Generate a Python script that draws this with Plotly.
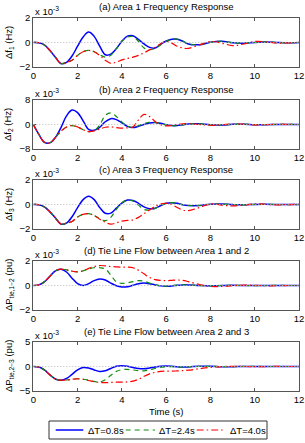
import plotly.graph_objects as go
from plotly.subplots import make_subplots

# ---------------- data (values in units of 1e-3) ----------------
t = [0, 0.25, 0.5, 0.75, 1, 1.25, 1.5, 1.75, 2, 2.25, 2.5, 2.75, 3, 3.25, 3.5, 3.75,
     4, 4.25, 4.5, 4.75, 5, 5.25, 5.5, 5.75, 6, 6.25, 6.5, 6.75, 7,
     7.5, 8, 8.5, 9, 9.5, 10, 10.5, 11, 11.5, 12]

series_names = ["ΔT=0.8s", "ΔT=2.4s", "ΔT=4.0s"]

# (a) Area 1 frequency
a_08 = [0, -0.02, -0.2, -0.65, -1.2, -1.72, -1.62, -1.1, -0.3, 0.45, 0.85, 0.5, -0.3, -1.0, -0.95, -0.5,
        0.1, 0.52, 0.55, 0.25, -0.12, -0.4, -0.45, -0.15, 0.12, 0.27, 0.27, 0.1, -0.12,
        -0.18, 0.02, 0.1, -0.02, -0.06, 0.0, 0.05, 0.0, -0.03, 0.0]
a_24 = [0, -0.02, -0.2, -0.65, -1.2, -1.72, -1.62, -1.45, -1.05, -0.75, -0.65, -0.75, -1.0, -1.2, -1.05, -0.5,
        0.1, 0.45, 0.48, 0.1, -0.45, -0.58, -0.48, -0.2, 0.1, 0.27, 0.27, 0.12, -0.1,
        -0.18, 0.02, 0.1, -0.02, -0.06, 0.0, 0.05, 0.0, -0.03, 0.0]
a_40 = [0, -0.02, -0.2, -0.65, -1.2, -1.72, -1.62, -1.45, -1.05, -0.75, -0.65, -0.75, -1.05, -1.45, -1.7, -1.6,
        -1.42, -1.3, -1.2, -1.05, -0.85, -0.6, -0.4, -0.1, 0.1, -0.05, -0.3, -0.45, -0.48,
        -0.2, 0.08, -0.05, -0.25, -0.12, 0.08, 0.05, -0.04, -0.03, 0.02]

# (b) Area 2 frequency
b_08 = [0, -3.2, -5.8, -6.0, -4.2, -1.0, 2.8, 4.7, 3.9, 1.2, -1.6, -1.9, -0.9, 0.9, 1.9, 1.6,
        0.5, -0.6, -1.0, -0.6, 0.0, 0.5, 0.65, 0.4, -0.05, -0.35, -0.35, -0.1, 0.15,
        0.22, -0.1, -0.15, 0.05, 0.1, -0.05, -0.05, 0.02, 0.02, 0.0]
b_24 = [0, -3.2, -5.8, -6.0, -4.2, -2.2, -0.8, -0.35, -0.8, -1.7, -2.3, -2.0, -0.2, 3.0, 3.8, 2.6,
        0.8, -0.5, -0.9, -0.4, 0.3, 0.7, 0.7, 0.35, -0.1, -0.4, -0.35, -0.1, 0.15,
        0.22, -0.1, -0.15, 0.05, 0.1, -0.05, -0.05, 0.02, 0.02, 0.0]
b_40 = [0, -3.2, -5.8, -6.0, -4.2, -2.2, -0.8, -0.35, -0.8, -1.7, -2.3, -2.1, -1.5, -0.9, -0.8, -1.0,
        -1.2, -1.1, -0.8, 1.5, 3.3, 2.6, 1.0, -0.1, -0.45, -0.3, 0.0, 0.25, 0.3,
        0.0, -0.25, -0.1, 0.15, 0.1, -0.1, -0.05, 0.05, 0.02, 0.0]

# (c) Area 3 frequency
c_08 = [0, -0.02, -0.2, -0.6, -1.1, -1.6, -1.52, -1.0, -0.25, 0.4, 0.68, 0.4, -0.25, -0.72, -0.7, -0.3,
        0.12, 0.36, 0.33, 0.1, -0.2, -0.35, -0.3, -0.1, 0.1, 0.15, 0.1, -0.02, -0.08,
        -0.08, 0.02, 0.04, -0.01, -0.03, 0.01, 0.02, 0.0, -0.01, 0.0]
c_24 = [0, -0.02, -0.2, -0.6, -1.1, -1.6, -1.52, -1.38, -1.02, -0.8, -0.75, -0.9, -1.15, -1.32, -1.05, -0.4,
        0.15, 0.35, 0.3, -0.05, -0.4, -0.45, -0.32, -0.08, 0.1, 0.15, 0.1, -0.02, -0.08,
        -0.08, 0.02, 0.04, -0.01, -0.03, 0.01, 0.02, 0.0, -0.01, 0.0]
c_40 = [0, -0.02, -0.2, -0.6, -1.1, -1.6, -1.52, -1.38, -1.02, -0.8, -0.75, -0.9, -1.2, -1.45, -1.6, -1.5,
        -1.35, -1.3, -1.25, -1.05, -0.75, -0.45, -0.15, 0.05, 0.1, 0.0, -0.25, -0.45, -0.5,
        -0.25, 0.05, -0.05, -0.12, -0.05, 0.05, 0.02, -0.03, -0.01, 0.01]

# (d) Tie line flow 1-2
d_08 = [0, 0.05, 0.3, 0.75, 1.2, 1.33, 1.1, 0.6, 0.15, 0.0, 0.15, 0.4, 0.53, 0.45, 0.2, -0.02,
        -0.12, -0.1, 0.02, 0.15, 0.2, 0.15, 0.05, -0.03, -0.06, -0.04, 0.02, 0.05, 0.05,
        0.0, -0.03, 0.0, 0.02, 0.0, -0.01, 0.0, 0.01, 0.0, 0.0]
d_24 = [0, 0.05, 0.3, 0.75, 1.2, 1.33, 1.28, 1.17, 1.12, 1.2, 1.35, 1.45, 1.45, 1.35, 0.85, 0.3,
        0.18, 0.22, 0.32, 0.4, 0.35, 0.2, 0.05, -0.03, -0.05, -0.02, 0.03, 0.06, 0.05,
        0.0, -0.03, 0.0, 0.02, 0.0, -0.01, 0.0, 0.01, 0.0, 0.0]
d_40 = [0, 0.05, 0.3, 0.75, 1.2, 1.33, 1.28, 1.17, 1.12, 1.2, 1.4, 1.55, 1.63, 1.6, 1.55, 1.52,
        1.5, 1.5, 1.45, 1.25, 0.95, 0.65, 0.48, 0.42, 0.4, 0.42, 0.45, 0.42, 0.32,
        0.08, -0.08, -0.08, -0.02, 0.03, 0.02, -0.02, -0.02, 0.0, 0.0]

# (e) Tie line flow 2-3
e_08 = [0, -0.1, -0.7, -1.7, -2.55, -2.8, -2.45, -1.6, -0.7, -0.2, -0.3, -0.7, -1.0, -0.85, -0.4, 0.05,
        0.15, 0.05, -0.2, -0.4, -0.45, -0.3, -0.1, 0.05, 0.1, 0.05, -0.05, -0.1, -0.08,
        0.05, 0.05, -0.03, -0.03, 0.02, 0.02, -0.01, -0.01, 0.0, 0.0]
e_24 = [0, -0.1, -0.7, -1.7, -2.55, -2.8, -2.75, -2.6, -2.5, -2.6, -2.8, -3.05, -3.15, -2.7, -1.8, -1.0,
        -0.65, -0.6, -0.7, -0.85, -0.9, -0.7, -0.4, -0.15, -0.05, -0.05, -0.1, -0.12, -0.08,
        0.03, 0.03, -0.02, -0.02, 0.01, 0.01, 0.0, 0.0, 0.0, 0.0]
e_40 = [0, -0.1, -0.7, -1.7, -2.55, -2.8, -2.75, -2.6, -2.5, -2.6, -2.85, -3.1, -3.25, -3.3, -3.25, -3.2,
        -3.2, -3.15, -3.0, -2.6, -2.0, -1.5, -1.2, -1.0, -0.95, -0.95, -0.9, -0.85, -0.75,
        -0.45, -0.18, -0.02, 0.03, 0.0, -0.02, -0.01, 0.01, 0.0, 0.0]

panels = [
    ("(a) Area 1 Frequency Response", "Δf<sub>1</sub> (Hz)", 2, [a_08, a_24, a_40]),
    ("(b) Area 2 Frequency Response", "Δf<sub>2</sub> (Hz)", 8, [b_08, b_24, b_40]),
    ("(c) Area 3 Frequency Response", "Δf<sub>3</sub> (Hz)", 2, [c_08, c_24, c_40]),
    ("(d) Tie Line Flow between Area 1 and 2", "ΔP<sub>tie,1−2</sub> (pu)", 2, [d_08, d_24, d_40]),
    ("(e) Tie Line Flow between Area 2 and 3", "ΔP<sub>tie,2−3</sub> (pu)", 5, [e_08, e_24, e_40]),
]

# ---------------- styling ----------------
W, H = 305, 443
FONT = "Liberation Sans, Arial, sans-serif"
FS = 9.5
colors = ["#0000ff", "#118c11", "#ff0000"]
dashes = ["solid", "5px,4px", "7px,3px,1.5px,3px"]
widths = [1.5, 1.2, 1.2]


def px(x):
    return x / W


def py(y):
    return 1 - y / H


# panel pixel boxes (top, bottom)
boxes = [(18, 67), (100, 149), (180, 229), (261, 310), (342, 391)]
x_left, x_right = 33.3, 299

fig = make_subplots(rows=5, cols=1)

for i, (title, ylab, rng, ser) in enumerate(panels):
    r = i + 1
    for j in range(3):
        fig.add_trace(go.Scatter(
            x=t, y=ser[j], mode="lines", name=series_names[j],
            line=dict(color=colors[j], width=widths[j], dash=dashes[j], shape="spline", smoothing=1),
            showlegend=False, legendgroup=series_names[j], hoverinfo="skip"),
            row=r, col=1)
    top, bot = boxes[i]
    sfx = "" if r == 1 else str(r)
    fig.layout["xaxis" + sfx].update(
        domain=[px(x_left), px(x_right)], range=[0, 12], tickvals=[0, 2, 4, 6, 8, 10, 12],
        showline=True, mirror="ticks", linecolor="#555", linewidth=1,
        ticks="inside", ticklen=3, tickcolor="#555", showgrid=False, zeroline=False,
        tickfont=dict(family=FONT, size=FS, color="black"), fixedrange=True)
    fig.layout["yaxis" + sfx].update(
        domain=[py(bot), py(top)], range=[-rng, rng], tickvals=[-rng, 0, rng],
        showline=True, mirror="ticks", linecolor="#555", linewidth=1,
        ticks="inside", ticklen=3, tickcolor="#555", showgrid=False, zeroline=False,
        tickfont=dict(family=FONT, size=FS, color="black"), fixedrange=True)
    # dotted zero line
    fig.add_shape(type="line", xref="x" + sfx + " domain", yref="y" + sfx,
                  x0=0, x1=1, y0=0, y1=0, line=dict(color="#b8b8b8", width=1, dash="1px,2px"))
    # panel title
    fig.add_annotation(text=title, xref="paper", yref="paper",
                       x=px((x_left + x_right) / 2), y=py(top - 11),
                       xanchor="center", yanchor="middle", showarrow=False,
                       font=dict(family=FONT, size=FS, color="black"))
    # exponent label
    fig.add_annotation(text="x 10<sup>-3</sup>", xref="paper", yref="paper",
                       x=px(x_left), y=py(top - 7),
                       xanchor="left", yanchor="middle", showarrow=False,
                       font=dict(family=FONT, size=FS, color="black"))
    # y-axis label
    fig.add_annotation(text=ylab, xref="paper", yref="paper",
                       x=px(8.5), y=py((top + bot) / 2), textangle=-90,
                       xanchor="center", yanchor="middle", showarrow=False,
                       font=dict(family=FONT, size=FS, color="black"))

fig.add_annotation(text="Time (s)", xref="paper", yref="paper",
                   x=px((x_left + x_right) / 2), y=py(411),
                   xanchor="center", yanchor="middle", showarrow=False,
                   font=dict(family=FONT, size=FS, color="black"))

# ---------------- legend (MATLAB-style boxed, one row) ----------------
leg_box = (49, 421, 267, 439)
leg_line_x = [(55.7, 83.3), (125.7, 155), (196.7, 225)]
leg_text_x = [85.7, 156.7, 227.7]
leg_y = 430
fig.add_shape(type="rect", xref="paper", yref="paper",
              x0=px(leg_box[0]), x1=px(leg_box[2]), y0=py(leg_box[3]), y1=py(leg_box[1]),
              line=dict(color="#333", width=1), fillcolor="white", layer="above")
for j in range(3):
    x0, x1 = leg_line_x[j]
    fig.add_shape(type="line", xref="paper", yref="paper",
                  x0=px(x0), x1=px(x1), y0=py(leg_y), y1=py(leg_y), layer="above",
                  line=dict(color=colors[j], width=widths[j], dash=dashes[j]))
    fig.add_annotation(text=series_names[j], xref="paper", yref="paper",
                       x=px(leg_text_x[j]), y=py(leg_y), xanchor="left", yanchor="middle",
                       showarrow=False, font=dict(family=FONT, size=FS, color="black"))

fig.update_layout(
    width=W, height=H, margin=dict(l=0, r=0, t=0, b=0, autoexpand=False),
    paper_bgcolor="white", plot_bgcolor="white",
    font=dict(family=FONT, size=FS, color="black"),
    showlegend=False,
)

fig.write_html("out.html", config={"displayModeBar": False},
               post_script="document.body.style.margin='0';document.body.style.overflow='hidden';")
